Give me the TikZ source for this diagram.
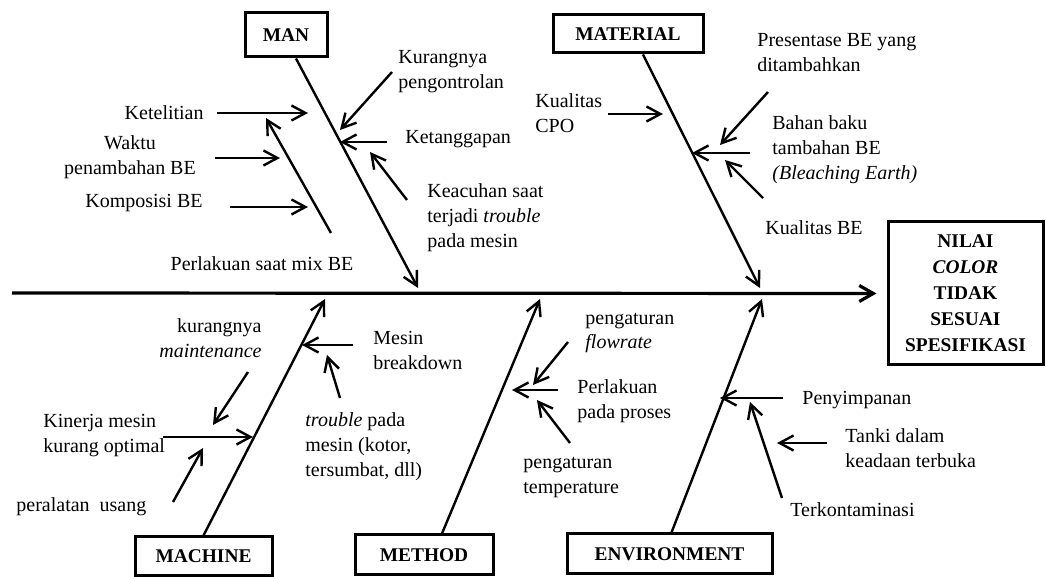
\documentclass[tikz,border=0pt]{standalone}
\usepackage{fontspec}
\setmainfont{Liberation Serif}
\usetikzlibrary{arrows.meta}

\begin{document}
\begin{tikzpicture}[x=0.5pt, y=-0.5pt, font=\fontsize{10}{12.5}\selectfont,
			box/.style={draw, line width=1.5pt, inner sep=0pt, font=\fontsize{9.7}{13}\selectfont\bfseries},
			txt/.style={inner sep=0pt, align=left},
			spine/.style={line width=1.6pt, -{Straight Barb[length=7pt, width=8pt]}},
			bone/.style={line width=1.2pt, -{Straight Barb[length=7pt, width=7.5pt]}}]
	\useasboundingbox (0,0) rectangle (1046,577);

	% kotak penyebab dan akibat
	\node[box, minimum width=41pt, minimum height=22pt] (man) at (286,35) {MAN};
	\node[box, minimum width=75pt, minimum height=19pt] (material) at (628,34) {MATERIAL};
	\node[box, minimum width=68.5pt, minimum height=19.5pt] (machine) at (203.5,556.5) {MACHINE};
	\node[box, minimum width=69pt, minimum height=20pt] (method) at (424,555) {METHOD};
	\node[box, minimum width=102.5pt, minimum height=20pt] (environment) at (669.5,554) {ENVIRONMENT};
	\node[box, minimum width=77.5pt, minimum height=71.5pt, align=center] (effect) at (965.5,293.5) {NILAI\\\textit{COLOR}\\TIDAK\\SESUAI\\SPESIFIKASI};

	% tulang utama
	\coordinate (spinestart) at (12,293);
	\coordinate (mantip) at (418,288);
	\coordinate (materialtip) at (760,288);
	\coordinate (machinetip) at (325,299);
	\coordinate (methodtip) at (540,299);
	\coordinate (environmenttip) at (762,299);
	\draw[spine] (spinestart) -- ([xshift=-5pt]effect.west);
	\draw[bone] ([xshift=5pt]man.south) -- (mantip);
	\draw[bone] ([xshift=7.5pt]material.south) -- (materialtip);
	\draw[bone] (machine.north) -- (machinetip);
	\draw[bone] ([xshift=9pt]method.north) -- (methodtip);
	\draw[bone] ([xshift=1pt]environment.north) -- (environmenttip);

	% MAN
	\node[txt, anchor=east] (ketelitian) at (204,113) {Ketelitian};
	\node[txt, align=center] (waktu) at (130,157) {Waktu\\penambahan BE};
	\node[txt, anchor=east] (komposisi) at (203,203) {Komposisi BE};
	\node[txt] (mix) at (262,264) {Perlakuan saat mix BE};
	\node[txt, anchor=west] (pengontrolan) at (398,72) {Kurangnya\\pengontrolan};
	\node[txt, anchor=west] (ketanggapan) at (405,139) {Ketanggapan};
	\node[txt, anchor=west] (keacuhan) at (427,218) {Keacuhan saat\\terjadi \textit{trouble}\\pada mesin};
	\coordinate (ketelitianS) at (217,113);   \coordinate (ketelitianE) at (308,113);
	\coordinate (waktuS) at (215,158);        \coordinate (waktuE) at (280,158);
	\coordinate (komposisiS) at (230,207);    \coordinate (komposisiE) at (308,207);
	\coordinate (mixS) at (331,233);          \coordinate (mixE) at (266,118);
	\coordinate (pengontrolanS) at (392,72);  \coordinate (pengontrolanE) at (340,130);
	\coordinate (ketanggapanS) at (387,142);  \coordinate (ketanggapanE) at (340,142);
	\coordinate (keacuhanS) at (407,200);     \coordinate (keacuhanE) at (370,152);

	% MATERIAL
	\node[txt, anchor=west] (cpo) at (535,113) {Kualitas\\CPO};
	\node[txt, anchor=west] (presentase) at (757,53) {Presentase BE yang\\ditambahkan};
	\node[txt, anchor=west] (bahanbaku) at (772,150) {Bahan baku\\tambahan BE\\\textit{(Bleaching Earth)}};
	\node[txt, anchor=west] (kualitasbe) at (765,228) {Kualitas BE};
	\coordinate (cpoS) at (608,114);          \coordinate (cpoE) at (663,114);
	\coordinate (presentaseS) at (768,92);    \coordinate (presentaseE) at (720,145);
	\coordinate (bahanbakuS) at (750,153);    \coordinate (bahanbakuE) at (692,153);
	\coordinate (kualitasbeS) at (763,198);   \coordinate (kualitasbeE) at (725,160);

	% MACHINE
	\node[txt, anchor=east, align=right] (maintenance) at (262,338) {kurangnya\\\textit{maintenance}};
	\node[txt, anchor=west] (kinerja) at (43,436) {Kinerja mesin\\kurang optimal};
	\node[txt, anchor=west] (usang) at (16,507) {peralatan\ \ usang};
	\node[txt, anchor=west] (breakdown) at (373,350) {Mesin\\breakdown};
	\node[txt, anchor=west] (troublemesin) at (305,447) {\textit{trouble} pada\\mesin (kotor,\\tersumbat, dll)};
	\coordinate (maintenanceS) at (248,372);  \coordinate (maintenanceE) at (213,425);
	\coordinate (kinerjaS) at (163,437);      \coordinate (kinerjaE) at (253,437);
	\coordinate (usangS) at (173,502);        \coordinate (usangE) at (203,448);
	\coordinate (breakdownS) at (353,345);    \coordinate (breakdownE) at (302,345);
	\coordinate (troublemesinS) at (340,398); \coordinate (troublemesinE) at (327,355);

	% METHOD
	\node[txt, anchor=west] (flowrate) at (585,333) {pengaturan\\\textit{flowrate}};
	\node[txt, anchor=west] (proses) at (577,401) {Perlakuan\\pada proses};
	\node[txt, anchor=west] (temperature) at (523,477) {pengaturan\\temperature};
	\coordinate (flowrateS) at (568,342);     \coordinate (flowrateE) at (533,385);
	\coordinate (prosesS) at (558,390);       \coordinate (prosesE) at (512,390);
	\coordinate (temperatureS) at (570,443);  \coordinate (temperatureE) at (537,400);

	% ENVIRONMENT
	\node[txt, anchor=west] (penyimpanan) at (802,400) {Penyimpanan};
	\node[txt, anchor=west] (tanki) at (845,448) {Tanki dalam\\keadaan terbuka};
	\node[txt, anchor=west] (terkontaminasi) at (790,510) {Terkontaminasi};
	\coordinate (penyimpananS) at (783,398);  \coordinate (penyimpananE) at (720,398);
	\coordinate (tankiS) at (827,443);        \coordinate (tankiE) at (777,443);
	\coordinate (terkontaminasiS) at (782,498); \coordinate (terkontaminasiE) at (750,402);

	\foreach \n in {ketelitian, waktu, komposisi, mix, pengontrolan, ketanggapan, keacuhan,
			cpo, presentase, bahanbaku, kualitasbe,
			maintenance, kinerja, usang, breakdown, troublemesin,
			flowrate, proses, temperature,
			penyimpanan, tanki, terkontaminasi}
		\draw[bone] (\n S) -- (\n E);
\end{tikzpicture}
\end{document}
